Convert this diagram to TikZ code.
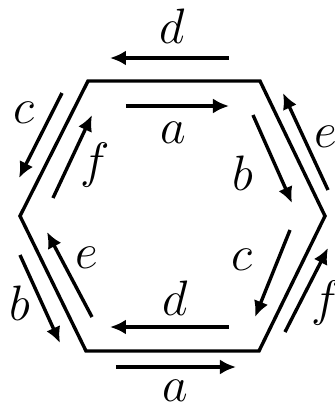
\documentclass[tikz,border=0pt]{standalone}
\usetikzlibrary{arrows.meta}
\begin{document}
\begin{tikzpicture}[
    x=0.5pt, y=-0.5pt,
    every node/.style={font=\fontsize{29}{32}\selectfont},
    side/.style={line width=1.7pt, line join=miter},
    flow/.style={line width=1.7pt, -{Latex[length=8pt,width=7.5pt]}},
    lbl/.style={inner sep=0pt}
]
\useasboundingbox (0,0) rectangle (335,409);

% ---------- hexagon ----------
\coordinate (tl) at (88,81);
\coordinate (tr) at (260,81);
\coordinate (rr) at (325,216);
\coordinate (br) at (259,351);
\coordinate (bl) at (86,351);
\coordinate (ll) at (20,216);
\draw[side] (tl) -- (tr) -- (rr) -- (br) -- (bl) -- (ll) -- cycle;

% ---------- macro for one labelled arrow ----------
% #1 = name, #2 = tail, #3 = head, #4 = label position, #5 = label
\newcommand{\movearrow}[5]{
  \coordinate (#1-s) at (#2);
  \coordinate (#1-e) at (#3);
  \draw[flow] (#1-s) -- (#1-e);
  \node[lbl] (#1-l) at (#4) {$#5$};
}

% ---------- top side ----------
\movearrow{dtop}{229,58}{110,58}{172,26}{d}
\movearrow{atop}{126,106}{229,106}{173,133}{a}

% ---------- upper right side ----------
\movearrow{bin}{253,115}{292,203}{243,173}{b}
\movearrow{eout}{328,190}{283,93}{326,137}{e}

% ---------- upper left side ----------
\movearrow{cout}{62,93}{19,178}{24,113}{c}
\movearrow{fin}{53,198}{92,115}{95,165}{f}

% ---------- lower left side ----------
\movearrow{ein}{92,317}{47,232}{87,258}{e}
\movearrow{bout}{20,255}{60,343}{20,303}{b}

% ---------- lower right side ----------
\movearrow{cin}{290,230}{255,317}{242,260}{c}
\movearrow{fout}{285,332}{328,248}{326,303}{f}

% ---------- bottom side ----------
\movearrow{dbot}{229,327}{110,327}{175,298}{d}
\movearrow{abot}{116,367}{236,367}{175,391}{a}

\end{tikzpicture}
\end{document}
